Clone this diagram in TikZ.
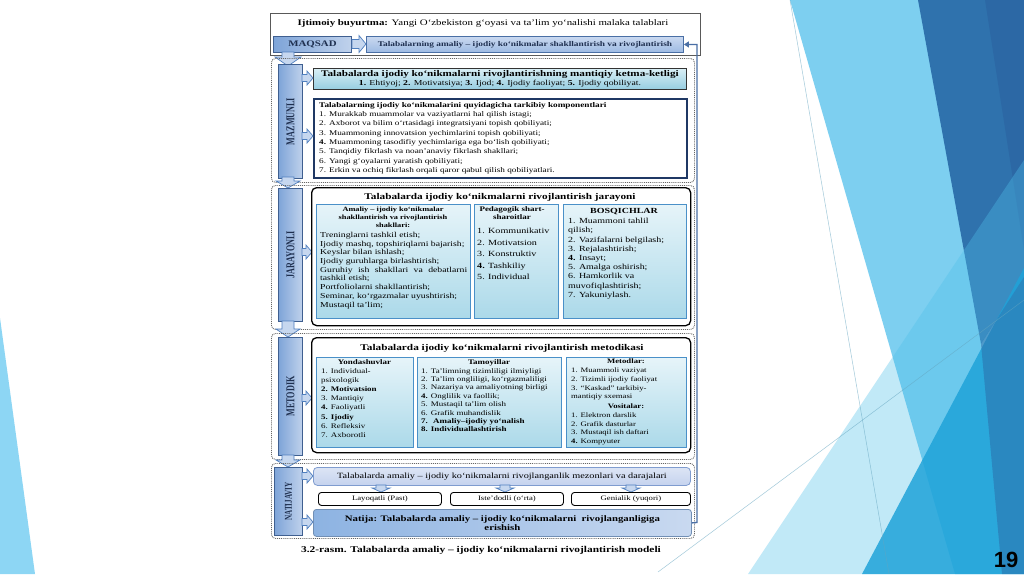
\documentclass[tikz,border=0pt]{standalone}
\usepackage{fontspec}
\setmainfont{Liberation Serif}[FakeStretch=1.28]
\newfontfamily\lblf{Liberation Serif}[FakeStretch=0.68]
\setsansfont{Liberation Sans}
\usetikzlibrary{arrows.meta,calc}
\definecolor{navyt}{HTML}{1F3050}
\definecolor{lblL}{HTML}{7EA4D8}
\definecolor{lblR}{HTML}{C0D2EC}
\definecolor{lblD}{HTML}{3F5F90}
\definecolor{arrF}{HTML}{C6D7EF}
\definecolor{arrD}{HTML}{4F7FBF}
\definecolor{inT}{HTML}{E6F4F9}
\definecolor{inB}{HTML}{ABD9E9}
\definecolor{inD}{HTML}{4A90C8}
\definecolor{manT}{HTML}{D9EFF6}
\definecolor{manB}{HTML}{96CDE1}
\definecolor{goalT}{HTML}{CAD9F0}
\definecolor{goalB}{HTML}{9DBAE3}
\definecolor{goalD}{HTML}{4A6FA5}
\definecolor{compD}{HTML}{1F3864}
\definecolor{mezF}{HTML}{C5D3EE}
\definecolor{mezD}{HTML}{7F9CCF}
\definecolor{natL}{HTML}{8DB3E2}
\definecolor{natR}{HTML}{C9D9F0}
\definecolor{decA}{HTML}{7DCFF0}
\definecolor{decB}{HTML}{4FC0EA}
\definecolor{decC}{HTML}{2F72AD}
\definecolor{decD}{HTML}{1FA3D9}
\definecolor{decE}{HTML}{2A62A0}
\definecolor{decL}{HTML}{8DD6F4}
\newcommand\fsz[2]{\fontsize{#1}{#2}\selectfont}
% right block arrow: x0, y, length, stem half, head half, head length
\newcommand\RArr[6]{\draw[barrow] (#1,{#2-#4}) -- ({#1+#3-#6},{#2-#4}) -- ({#1+#3-#6},{#2-#5}) -- ({#1+#3},#2) -- ({#1+#3-#6},{#2+#5}) -- ({#1+#3-#6},{#2+#4}) -- (#1,{#2+#4}) -- cycle;}
% down block arrow: x, y0, length, stem half, head half, head length
\newcommand\DArr[6]{\draw[barrow] ({#1-#4},#2) -- ({#1-#4},{#2+#3-#6}) -- ({#1-#5},{#2+#3-#6}) -- (#1,{#2+#3}) -- ({#1+#5},{#2+#3-#6}) -- ({#1+#4},{#2+#3-#6}) -- ({#1+#4},#2) -- cycle;}
\tikzset{
 wh/.style 2 args={minimum width=#1, minimum height=#2},
 sect/.style={draw=black!60, densely dotted, line width=0.9pt, rounded corners=4pt, anchor=north west, inner sep=0pt},
 lblbox/.style={draw=lblD, line width=0.9pt, left color=lblL, right color=lblR, anchor=north west, inner sep=0pt},
 lbltxt/.style={rotate=90, text=navyt, font=\lblf\bfseries\fsz{12}{12}, inner sep=0pt},
 barrow/.style={draw=arrD, fill=arrF, line width=0.7pt, line join=miter},
 inbox/.style={draw=inD, line width=0.9pt, top color=inT, bottom color=inB, anchor=north west, inner sep=0pt},
 bigbox/.style={draw=black, line width=1.3pt, rounded corners=5pt, fill=white, anchor=north west, inner sep=0pt},
 txt/.style={inner sep=0pt, align=left, anchor=north west},
 ctxt/.style={inner sep=0pt, align=center, anchor=north},
 smallbox/.style={draw=black, line width=0.9pt, rounded corners=3pt, fill=white, anchor=north west, inner sep=0pt, font=\fsz{6.8}{7.5}},
 fb/.style={draw=goalD, line width=1.3pt, -{Triangle[length=5pt,width=6pt]}},
}
\begin{document}
\begin{tikzpicture}[x=1pt,y=-1pt]
\useasboundingbox (0,0) rectangle (1024,574);
\fill[white] (0,0) rectangle (1024,574);
% ---- slide decoration ----
\fill[decL] (0,318) -- (35,574) -- (0,574) -- cycle;
\fill[decA] (790,0) -- (1024,0) -- (1024,574) -- (955,574) -- cycle;
\fill[decC] (918,0) -- (1024,0) -- (1024,277) -- (981,344) -- cycle;
\fill[decE, opacity=0.6] (985,0) -- (1024,0) -- (1024,250) -- cycle;
\fill[decB, opacity=0.35] (748,574) -- (1024,160) -- (1024,574) -- cycle;
\fill[decD, opacity=0.85] (862,574) -- (1024,268) -- (1024,574) -- cycle;
\fill[decE, opacity=0.45] (981,344) -- (1024,277) -- (1024,574) -- (1002,574) -- cycle;
\draw[decA!80!black, line width=0.5pt, opacity=0.6] (790,0) -- (889,574);
\draw[decA!80!black, line width=0.5pt, opacity=0.6] (658,572) -- (1024,300);
\node[font=\sffamily\bfseries\fsz{22}{22}] (pg) at (1006,560) {19};
% ---- top section ----
\node[draw=black!65, line width=1pt, fill=white, anchor=north west, inner sep=0pt, wh={430pt}{42pt}] (top) at (270,13) {};
\node[inner sep=0pt, font=\fsz{8.5}{9}] (ijt) at (483,23) {\textbf{Ijtimoiy buyurtma:} Yangi O‘zbekiston g‘oyasi va ta’lim yo‘nalishi malaka talablari};
\node[lblbox, wh={78pt}{16pt}, text=navyt, font=\bfseries\fsz{8.5}{9}] (maqsad) at (273,36) {MAQSAD};
\RArr{352}{44}{14}{4.5}{8.5}{7}
\node[draw=goalD, line width=0.9pt, top color=goalT, bottom color=goalB, anchor=north west, inner sep=0pt, wh={317pt}{16pt}, text=navyt, font=\bfseries\fsz{7.3}{8}] (goal) at (366,36) {Talabalarning amaliy – ijodiy ko‘nikmalar shakllantirish va rivojlantirish};
\DArr{288}{52}{14}{6}{13}{9}
% ---- section 2: MAZMUNLI ----
\node[sect, wh={423pt}{124pt}] (s2) at (271,58) {};
\node[lblbox, wh={24pt}{114pt}] (l2) at (278,64) {};
\node[lbltxt] at (l2.center) {MAZMUNLI};
\node[draw=black!80, line width=0.9pt, top color=manT, bottom color=manB, anchor=north west, inner sep=0pt, wh={373pt}{21pt}] (man) at (313,68) {};
\node[inner sep=0pt, align=center, font=\fsz{8}{8.8}] (mantxt) at (man.center) {{\bfseries\fsz{8.7}{8.8}Talabalarda ijodiy ko‘nikmalarni rivojlantirishning mantiqiy ketma-ketligi}\\{\fsz{7.6}{8.8}\textbf{1.} Ehtiyoj; \textbf{2.} Motivatsiya; \textbf{3.} Ijod; \textbf{4.} Ijodiy faoliyat; \textbf{5.} Ijodiy qobiliyat.}};
\RArr{302}{78}{11}{3.5}{7}{6}
\node[draw=compD, line width=1.5pt, fill=white, anchor=north west, inner sep=0pt, wh={373pt}{79pt}] (comp) at (313,98) {};
\node[txt, font=\fsz{7.2}{9.3}] (comptxt) at (319,102) {\textbf{Talabalarning ijodiy ko‘nikmalarini quyidagicha tarkibiy komponentlari}\\
1. Murakkab muammolar va vaziyatlarni hal qilish istagi;\\
2. Axborot va bilim o‘rtasidagi integratsiyani topish qobiliyati;\\
3. Muammoning innovatsion yechimlarini topish qobiliyati;\\
\textbf{4.} Muammoning tasodifiy yechimlariga ega bo‘lish qobiliyati;\\
5. Tanqidiy fikrlash va noan’anaviy fikrlash shakllari;\\
6. Yangi g‘oyalarni yaratish qobiliyati;\\
7. Erkin va ochiq fikrlash orqali qaror qabul qilish qobiliyatlari.};
\RArr{302}{136}{11}{3.5}{7}{6}
\DArr{288}{177}{11}{6}{12}{7}
% ---- section 3: JARAYONLI ----
\node[sect, wh={423pt}{144pt}] (s3) at (271,185) {};
\node[lblbox, wh={24pt}{133pt}] (l3) at (278,188) {};
\node[lbltxt] at (l3.center) {JARAYONLI};
\RArr{302}{252}{10}{3.5}{7}{6}
\node[bigbox, wh={379pt}{138pt}] (b3) at (311,187) {};
\node[inner sep=0pt, font=\bfseries\fsz{8.8}{9}] (t3) at (500,197) {Talabalarda ijodiy ko‘nikmalarni rivojlantirish jarayoni};
\node[inbox, wh={154pt}{114pt}] (a3) at (316,204) {};
\node[inbox, wh={84pt}{114pt}] (bb3) at (474,204) {};
\node[inbox, wh={123pt}{114pt}] (c3) at (563,204) {};
\node[ctxt, font=\bfseries\fsz{6.5}{7.8}] (a3h) at (393,207) {Amaliy – ijodiy ko‘nikmalar\\shakllantirish va rivojlantirish\\shakllari:};
\node[txt, font=\fsz{7.6}{8.7}] (a3t) at (320,232) {Treninglarni tashkil etish;\\
Ijodiy mashq, topshiriqlarni bajarish;\\
Keyslar bilan ishlash;\\
Ijodiy guruhlarga birlashtirish;\\
\makebox[147pt][s]{Guruhiy ish shakllari va debatlarni}\\
tashkil etish;\\
Portfoliolarni shakllantirish;\\
Seminar, ko‘rgazmalar uyushtirish;\\
Mustaqil ta’lim;};
\node[ctxt, font=\bfseries\fsz{7}{8.2}] (b3h) at (512,206) {Pedagogik shart-\\sharoitlar};
\node[txt, font=\fsz{7.9}{11.5}] (b3t) at (477,228) {1. Kommunikativ\\2. Motivatsion\\3. Konstruktiv\\\textbf{4.} Tashkiliy\\5. Individual};
\node[ctxt, font=\bfseries\fsz{7.8}{8}] (c3h) at (624,208) {BOSQICHLAR};
\node[txt, font=\fsz{7.8}{9.2}] (c3t) at (568,218) {1. Muammoni tahlil\\qilish;\\2. Vazifalarni belgilash;\\3. Rejalashtirish;\\\textbf{4.} Insayt;\\5. Amalga oshirish;\\6. Hamkorlik va\\muvofiqlashtirish;\\7. Yakuniylash.};
\DArr{288}{321}{16}{6}{12}{8}
% ---- section 4: METODIK ----
\node[sect, wh={423pt}{126pt}] (s4) at (271,333) {};
\node[lblbox, wh={24pt}{118pt}] (l4) at (278,337) {};
\node[lbltxt] at (l4.center) {METODIK};
\RArr{302}{398}{10}{3.5}{7}{6}
\node[bigbox, wh={379pt}{115pt}] (b4) at (311,337) {};
\node[inner sep=0pt, font=\bfseries\fsz{8.8}{9}] (t4) at (502,348) {Talabalarda ijodiy ko‘nikmalarni rivojlantirish metodikasi};
\node[inbox, wh={97pt}{90pt}] (a4) at (316,357) {};
\node[inbox, wh={144pt}{90pt}] (bb4) at (417,357) {};
\node[inbox, wh={120pt}{90pt}] (c4) at (566,357) {};
\node[ctxt, font=\bfseries\fsz{7}{8}] (a4h) at (364.5,359) {Yondashuvlar};
\node[txt, font=\fsz{7}{9.2}] (a4t) at (321,368) {1. Individual-\\psixologik\\\textbf{2. Motivatsion}\\3. Mantiqiy\\\textbf{4.} Faoliyatli\\\textbf{5. Ijodiy}\\6. Refleksiv\\7. Axborotli};
\node[ctxt, font=\bfseries\fsz{7}{8}] (b4h) at (489,359) {Tamoyillar};
\node[txt, font=\fsz{7}{8.4}] (b4t) at (421,368) {1. Ta’limning tizimliligi ilmiyligi\\2. Ta’lim ongliligi, ko‘rgazmaliligi\\3. Nazariya va amaliyotning birligi\\\textbf{4.} Onglilik va faollik;\\5. Mustaqil ta’lim olish\\6. Grafik muhandislik\\\textbf{7. \ Amaliy–ijodiy yo‘nalish}\\\textbf{8. Individuallashtirish}};
\node[ctxt, font=\bfseries\fsz{6.8}{8}] (c4h) at (626,359) {Metodlar:};
\node[txt, font=\fsz{6.8}{8.6}] (c4t) at (571,368) {1. Muammoli vaziyat\\2. Tizimli ijodiy faoliyat\\3. “Kaskad” tarkibiy-\\mantiqiy sxemasi};
\node[ctxt, font=\bfseries\fsz{6.8}{8}] (c4v) at (626,404) {Vositalar:};
\node[txt, font=\fsz{6.8}{8.4}] (c4u) at (571,413) {1. Elektron darslik\\2. Grafik dasturlar\\3. Mustaqil ish daftari\\\textbf{4.} Kompyuter};
\DArr{288}{455}{12}{6}{12}{7}
% ---- section 5: NATIJAVIY ----
\node[sect, wh={423pt}{75pt}] (s5) at (271,463) {};
\node[lblbox, wh={28pt}{68pt}] (l5) at (274,467) {};
\node[lbltxt, font=\lblf\bfseries\fsz{10.5}{10.5}] at (l5.center) {NATIJAVIY};
\RArr{302}{476}{11}{3.5}{7}{6}
\RArr{302}{522}{11}{3.5}{7}{6}
\node[draw=mezD, line width=0.8pt, top color=mezF!60!white, bottom color=mezF, rounded corners=4pt, anchor=north west, inner sep=0pt, wh={377pt}{18pt}, font=\fsz{8}{8.5}] (mez) at (313,467) {Talabalarda amaliy – ijodiy ko‘nikmalarni rivojlanganlik mezonlari va darajalari};
\DArr{381}{485}{7}{5}{9}{4}
\DArr{505}{485}{7}{5}{9}{4}
\DArr{631}{485}{7}{5}{9}{4}
\node[smallbox, wh={123pt}{13pt}] (lay) at (318,492) {Layoqatli (Past)};
\node[smallbox, wh={113pt}{13pt}] (ist) at (450,492) {Iste’dodli (o‘rta)};
\node[smallbox, wh={119pt}{13pt}] (gen) at (571,492) {Genialik (yuqori)};
\node[draw=natL!80!black, line width=0.8pt, left color=natL, right color=natR, rounded corners=3pt, anchor=north west, inner sep=0pt, wh={378pt}{27pt}, align=center, text=black, font=\bfseries\fsz{8.4}{9.2}] (nat) at (313,509) {Natija: Talabalarda amaliy – ijodiy ko‘nikmalarni \ rivojlanganligiga\\erishish};
\draw[fb] (nat.east) -- (697,522.5) |- (goal.east);
% caption
\node[inner sep=0pt, font=\bfseries\fsz{8.9}{9}] (cap) at (481,550) {3.2-rasm. Talabalarda amaliy – ijodiy ko‘nikmalarni rivojlantirish modeli};
\end{tikzpicture}
\end{document}
